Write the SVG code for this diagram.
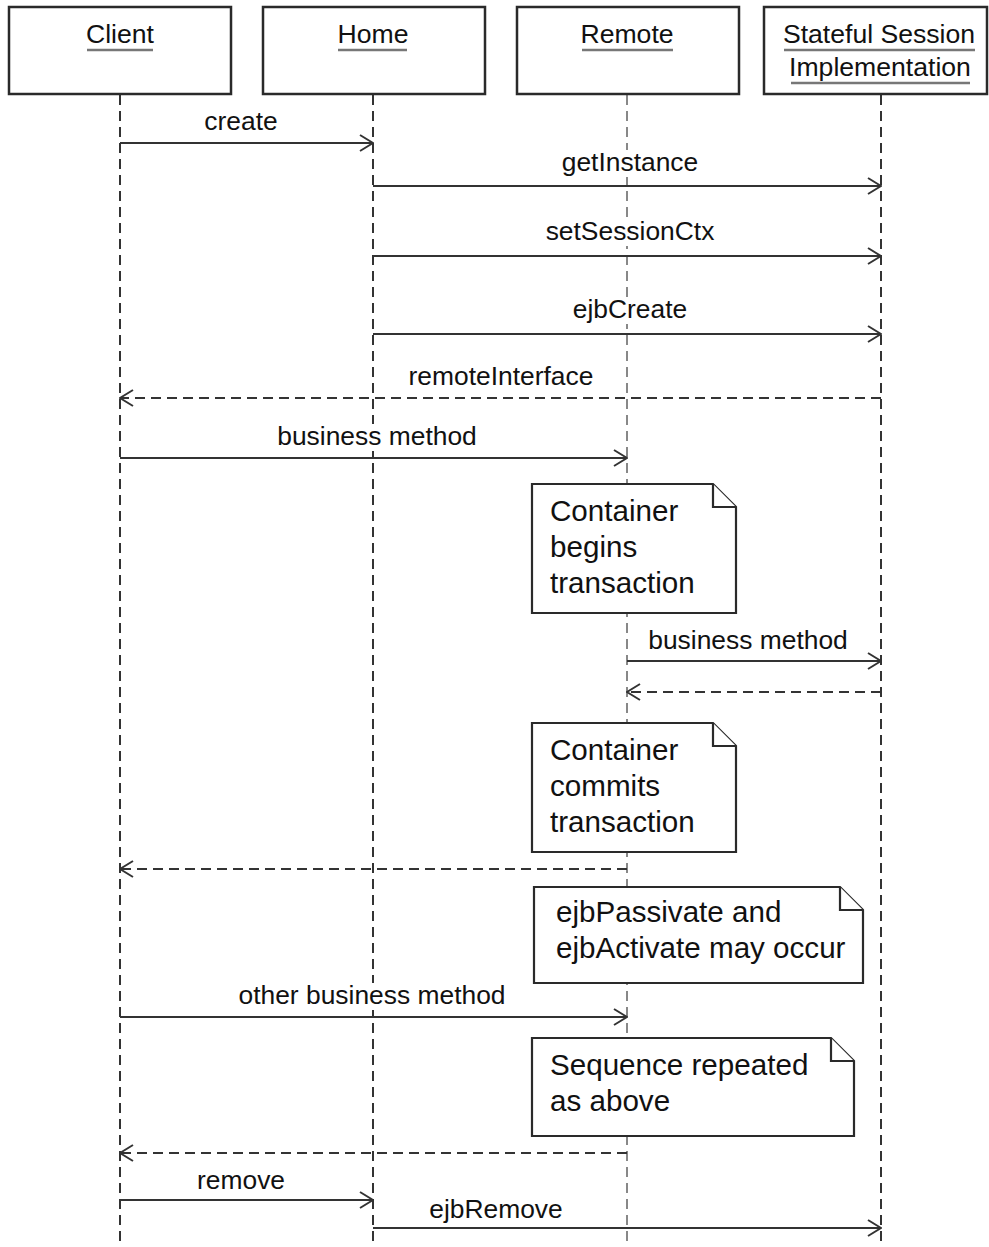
<svg xmlns="http://www.w3.org/2000/svg" width="989" height="1247" viewBox="0 0 989 1247">
<defs>
<marker id="open" viewBox="0 0 16 20" refX="15" refY="10" markerWidth="16" markerHeight="20" markerUnits="userSpaceOnUse" orient="auto">
<path d="M2,2 L15,10 L2,18" fill="none" stroke="#333" stroke-width="2"/>
</marker>
<style>
.box{fill:#fff;stroke:#2a2a2a;stroke-width:2.5}
.hd{font-family:"Liberation Sans",Arial,sans-serif;font-size:26.6px;fill:#111;text-anchor:middle}
.ul{stroke:#777;stroke-width:2.5}
.life{stroke:#333;stroke-width:2;stroke-dasharray:10 6;fill:none}
.life2{stroke:#888;stroke-width:2;stroke-dasharray:10 6;fill:none}
.msg{stroke:#333;stroke-width:2.2;fill:none;marker-end:url(#open)}
.ret{stroke:#333;stroke-width:2;fill:none;stroke-dasharray:10 6;marker-end:url(#open)}
.lbl{font-family:"Liberation Sans",Arial,sans-serif;font-size:26.4px;fill:#111;text-anchor:middle}
.bg{fill:#fff;stroke:none}
.note{fill:#fff;stroke:#2a2a2a;stroke-width:2.2}
.nt{font-family:"Liberation Sans",Arial,sans-serif;font-size:29.6px;fill:#111}
</style>
</defs>
<rect width="989" height="1247" fill="#fff"/>

<g id="lifelines">
<line class="life" x1="120" y1="95" x2="120" y2="1247"/>
<line class="life" x1="373" y1="95" x2="373" y2="1247"/>
<line class="life2" x1="627" y1="95" x2="627" y2="1247"/>
<line class="life" x1="881" y1="95" x2="881" y2="1247"/>
</g>

<g id="client">
<rect class="box" x="9" y="7" width="222" height="87"/>
<text class="hd" x="120" y="43">Client</text>
<line class="ul" x1="87" y1="50" x2="153" y2="50"/>
</g>
<g id="home">
<rect class="box" x="263" y="7" width="222" height="87"/>
<text class="hd" x="373" y="43">Home</text>
<line class="ul" x1="338" y1="50" x2="407" y2="50"/>
</g>
<g id="remote">
<rect class="box" x="517" y="7" width="222" height="87"/>
<text class="hd" x="627" y="43">Remote</text>
<line class="ul" x1="582" y1="50" x2="673" y2="50"/>
</g>
<g id="stateful">
<rect class="box" x="764" y="7" width="223" height="87"/>
<text class="hd" x="879" y="43">Stateful Session</text>
<line class="ul" x1="784" y1="50" x2="975" y2="50"/>
<text class="hd" x="880" y="76">Implementation</text>
<line class="ul" x1="791" y1="83" x2="970" y2="83"/>
</g>

<g id="connectors">
<line class="msg" x1="120" y1="143" x2="373" y2="143"/>
<text class="lbl" x="241" y="130">create</text>
<line class="msg" x1="373" y1="186" x2="881" y2="186"/>
<rect class="bg" x="560" y="150" width="140" height="27"/>
<text class="lbl" x="630" y="171">getInstance</text>
<line class="msg" x1="373" y1="256" x2="881" y2="256"/>
<rect class="bg" x="544" y="219" width="172" height="27"/>
<text class="lbl" x="630" y="240">setSessionCtx</text>
<line class="msg" x1="373" y1="334" x2="881" y2="334"/>
<rect class="bg" x="571" y="297" width="118" height="27"/>
<text class="lbl" x="630" y="318">ejbCreate</text>
<line class="ret" x1="881" y1="398" x2="120" y2="398"/>
<text class="lbl" x="501" y="385">remoteInterface</text>
<line class="msg" x1="120" y1="458" x2="627" y2="458"/>
<rect class="bg" x="275" y="424" width="204" height="27"/>
<text class="lbl" x="377" y="445">business method</text>
<line class="msg" x1="627" y1="661" x2="881" y2="661"/>
<text class="lbl" x="748" y="649">business method</text>
<line class="ret" x1="881" y1="692" x2="627" y2="692"/>
<line class="ret" x1="627" y1="869" x2="120" y2="869"/>
<line class="msg" x1="120" y1="1017" x2="627" y2="1017"/>
<rect class="bg" x="237" y="983" width="270" height="27"/>
<text class="lbl" x="372" y="1004">other business method</text>
<line class="ret" x1="627" y1="1153" x2="120" y2="1153"/>
<line class="msg" x1="120" y1="1200" x2="373" y2="1200"/>
<text class="lbl" x="241" y="1189">remove</text>
<line class="msg" x1="373" y1="1228" x2="881" y2="1228"/>
<text class="lbl" x="496" y="1218">ejbRemove</text>
</g>

<g id="note1">
<path class="note" d="M532,484 H713 L736,507 V613 H532 Z"/>
<path class="note" d="M713,484 V507 H736" fill="none"/>
<text class="nt" x="550" y="521">Container</text>
<text class="nt" x="550" y="557">begins</text>
<text class="nt" x="550" y="593">transaction</text>
</g>
<g id="note2">
<path class="note" d="M532,723 H713 L736,746 V852 H532 Z"/>
<path class="note" d="M713,723 V746 H736" fill="none"/>
<text class="nt" x="550" y="760">Container</text>
<text class="nt" x="550" y="796">commits</text>
<text class="nt" x="550" y="832">transaction</text>
</g>
<g id="note3">
<path class="note" d="M534,887 H840 L863,910 V983 H534 Z"/>
<path class="note" d="M840,887 V910 H863" fill="none"/>
<text class="nt" x="556" y="922">ejbPassivate and</text>
<text class="nt" x="556" y="958">ejbActivate may occur</text>
</g>
<g id="note4">
<path class="note" d="M532,1038 H831 L854,1061 V1136 H532 Z"/>
<path class="note" d="M831,1038 V1061 H854" fill="none"/>
<text class="nt" x="550" y="1075">Sequence repeated</text>
<text class="nt" x="550" y="1111">as above</text>
</g>
</svg>
